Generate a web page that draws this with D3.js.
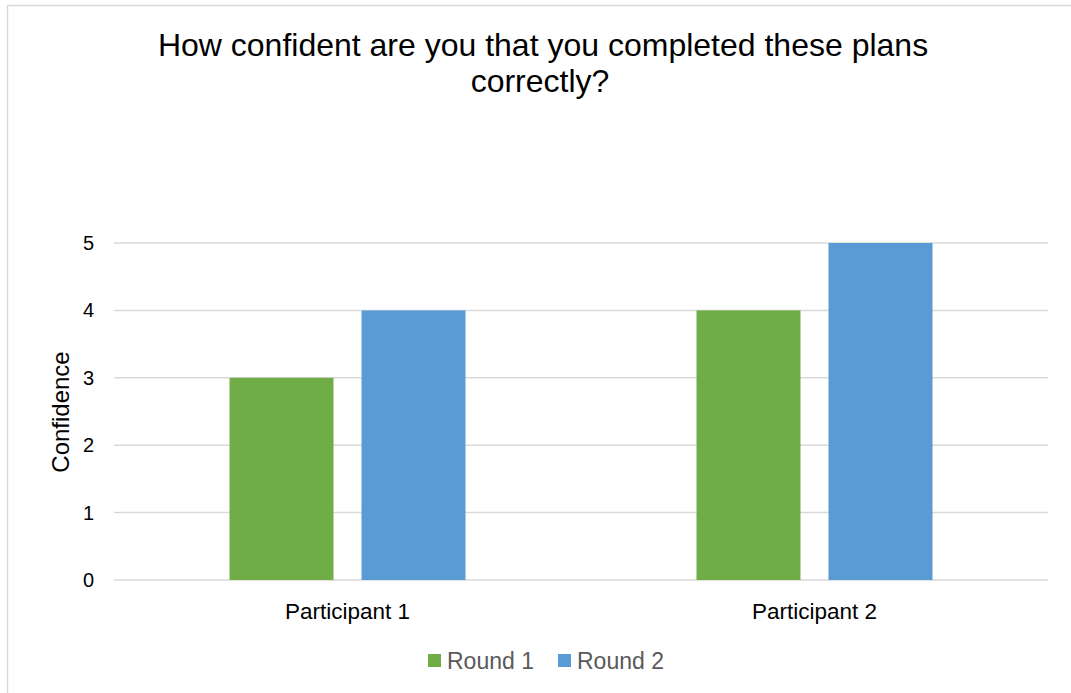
<!DOCTYPE html>
<html>
<head>
<meta charset="utf-8">
<script src="https://cdn.jsdelivr.net/npm/d3@7"></script>
<style>
  html, body { margin: 0; padding: 0; background: #fff; }
  svg { display: block; }
</style>
</head>
<body>
<svg id="chart" width="1071" height="693"></svg>
<script>
const categories = ["Participant 1", "Participant 2"];
const seriesNames = ["Round 1", "Round 2"];
const round1 = [3, 4];
const round2 = [4, 5];
const yTicks = [0, 1, 2, 3, 4, 5];
const colors = ["#70AD47", "#5B9BD5"];
const titleLines = ["How confident are you that you completed these plans", "correctly?"];

const svg = d3.select("#chart");
const W = 1071, H = 693;
const plot = { left: 114, right: 1048, top: 243, bottom: 580 };

// outer frame (left/top visible)
svg.append("rect")
  .attr("x", 7.5).attr("y", 5.5)
  .attr("width", W + 20).attr("height", H + 20)
  .attr("fill", "#fff").attr("stroke", "#D9D9D9").attr("stroke-width", 1.5);

// title
const titleX = [543, 540];
svg.append("g").selectAll("text").data(titleLines).enter().append("text")
  .attr("x", (d, i) => titleX[i]).attr("y", (d, i) => 56 + i * 36)
  .attr("text-anchor", "middle")
  .attr("font-family", "Liberation Sans, Arial, sans-serif")
  .attr("font-size", 32)
  .attr("fill", "#000")
  .text(d => d);

const x = d3.scaleBand().domain(categories).range([plot.left, plot.right]).padding(0);
const xs = d3.scaleBand().domain(seriesNames).range([0, x.bandwidth()])
  .paddingInner(28 / 132).paddingOuter(0.875);
const y = d3.scaleLinear().domain([0, 5]).range([plot.bottom, plot.top]);

// gridlines
svg.append("g").selectAll("line").data(yTicks).enter().append("line")
  .attr("x1", plot.left).attr("x2", plot.right)
  .attr("y1", d => y(d)).attr("y2", d => y(d))
  .attr("stroke", "#D9D9D9").attr("stroke-width", 1.5);

// y axis tick labels
const yAxis = d3.axisLeft(y).tickValues(yTicks).tickSize(0).tickPadding(0).tickFormat(d3.format("d"));
const yg = svg.append("g").attr("transform", `translate(${plot.left - 20},0)`).call(yAxis);
yg.select(".domain").remove();
yg.attr("font-size", null).attr("font-family", null);
yg.selectAll("text")
  .attr("font-family", "Liberation Sans, Arial, sans-serif")
  .attr("font-size", 20).attr("fill", "#000");

// bars
const data = categories.map((c, i) => ({ cat: c, vals: [round1[i], round2[i]] }));
const groups = svg.append("g").selectAll("g").data(data).enter().append("g")
  .attr("transform", d => `translate(${x(d.cat)},0)`);
groups.selectAll("rect").data(d => d.vals.map((v, j) => ({ name: seriesNames[j], v, j })))
  .enter().append("rect")
  .attr("x", d => xs(d.name))
  .attr("width", xs.bandwidth())
  .attr("y", d => y(d.v))
  .attr("height", d => y(0) - y(d.v))
  .attr("fill", d => colors[d.j]);

// x axis labels
const xAxis = d3.axisBottom(x).tickSize(0).tickPadding(0);
const xg = svg.append("g").attr("transform", `translate(0,${plot.bottom + 23})`).call(xAxis);
xg.select(".domain").remove();
xg.attr("font-size", null).attr("font-family", null);
xg.selectAll("text")
  .attr("font-family", "Liberation Sans, Arial, sans-serif")
  .attr("font-size", 22.5).attr("fill", "#000");

// y axis title
svg.append("text")
  .attr("transform", `translate(69,412) rotate(-90)`)
  .attr("text-anchor", "middle")
  .attr("font-family", "Liberation Sans, Arial, sans-serif")
  .attr("font-size", 24).attr("fill", "#000")
  .text("Confidence");

// legend
const legendX = [428, 558];
const lg = svg.append("g").selectAll("g").data(seriesNames).enter().append("g")
  .attr("transform", (d, i) => `translate(${legendX[i]},654)`);
lg.append("rect").attr("width", 13).attr("height", 13).attr("fill", (d, i) => colors[i]);
lg.append("text").attr("x", 19).attr("y", 14.5)
  .attr("font-family", "Liberation Sans, Arial, sans-serif")
  .attr("font-size", 23).attr("fill", "#595959")
  .text(d => d);
</script>
</body>
</html>
